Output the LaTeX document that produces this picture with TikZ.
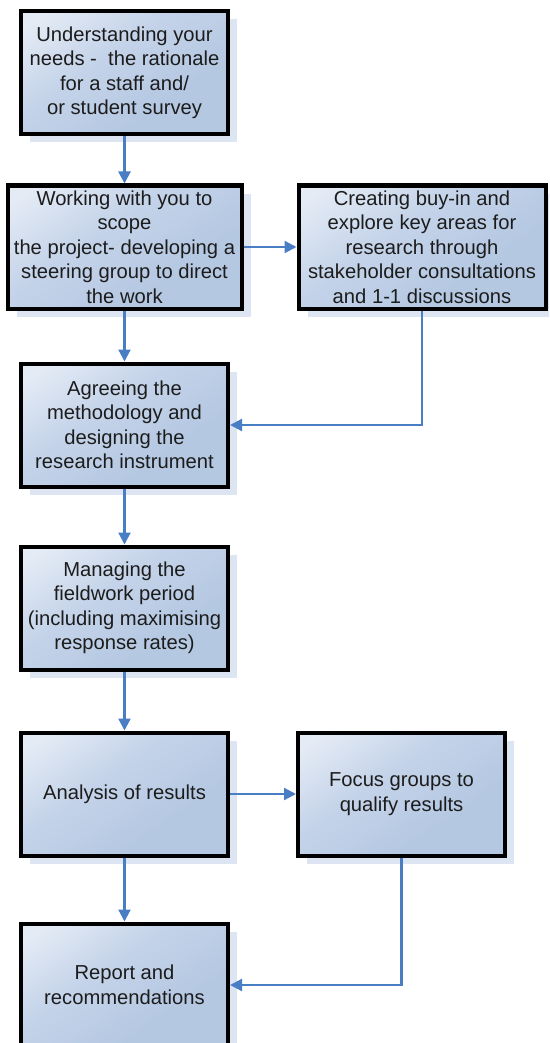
\documentclass[tikz,border=0pt]{standalone}
\usepackage{fontspec}
\setmainfont{Liberation Sans}
\usetikzlibrary{positioning,shadows,arrows.meta}
\definecolor{boxtop}{HTML}{E4EBF5}
\definecolor{boxmid}{HTML}{C4D3E9}
\definecolor{boxbot}{HTML}{B5C8E2}
\definecolor{shadowc}{HTML}{DCE5F1}
\definecolor{linkc}{HTML}{4A7EC4}
\definecolor{txtc}{HTML}{1C1C1C}
\pgfdeclareverticalshading{stagefill}{100bp}{color(0bp)=(boxbot); color(35bp)=(boxbot);
  color(58bp)=(boxmid); color(80bp)=(boxtop); color(100bp)=(boxtop)}

\begin{document}
\begin{tikzpicture}[font=\fontsize{20.2}{24.5}\selectfont,
  stage/.style={draw=black,line width=4pt,rectangle,align=center,text=txtc,
    minimum width=207pt,minimum height=123pt,inner sep=2pt,
    shading=stagefill,shading angle=35,
    drop shadow={shadow xshift=9pt,shadow yshift=-8pt,fill=shadowc,opacity=1}},
  link/.style={draw=linkc,line width=2.2pt,-{Triangle[length=12pt,width=12pt]}}]
\useasboundingbox (0,0) rectangle (549pt,-1043pt);
\clip (0,0) rectangle (549pt,-1043pt);
\node[stage] (needs) at (124.5pt,-73pt)
     {Understanding your\\needs - \ the rationale\\for a staff and/\\or student survey};
\node[stage,minimum width=234pt,below=47pt of needs] (scope)
     {Working with you to\\scope\\the project- developing a\\steering group to direct\\the work};
\node[stage,minimum width=247pt,right=53pt of scope] (buyin)
     {Creating buy-in and\\explore key areas for\\research through\\stakeholder consultations\\and 1-1 discussions};
\node[stage,below=51pt of scope] (method)
     {Agreeing the\\methodology and\\designing the\\research instrument};
\node[stage,below=56pt of method] (field)
     {Managing the\\fieldwork period\\(including maximising\\response rates)};
\node[stage,below=59pt of field] (analysis) {Analysis of results};
\node[stage,right=66pt of analysis] (focus) {Focus groups to\\qualify results};
\node[stage,below=64pt of analysis] (report) {Report and\\recommendations};
\draw[link] (needs) -- (scope);
\draw[link] (scope) -- (buyin);
\draw[link] (scope) -- (method);
\draw[link] (buyin.south) |- (method.east);
\draw[link] (method) -- (field);
\draw[link] (field) -- (analysis);
\draw[link] (analysis) -- (focus);
\draw[link] (analysis) -- (report);
\draw[link] (focus.south) |- (report.east);
\end{tikzpicture}
\end{document}
